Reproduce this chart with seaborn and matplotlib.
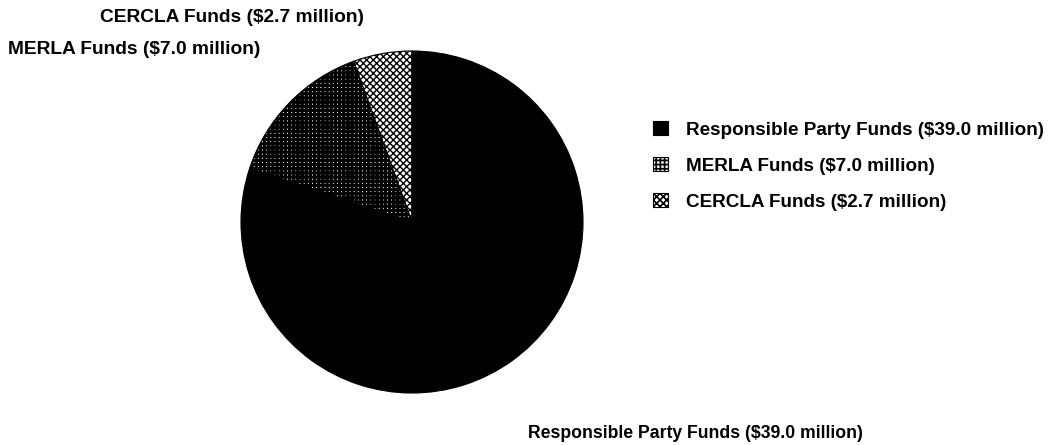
import matplotlib
matplotlib.use('Agg')
import matplotlib.pyplot as plt
import seaborn as sns

# data
labels = ['CERCLA Funds', 'MERLA Funds', 'Responsible Party Funds']
amounts = [2.7, 7.0, 39.0]
hatches = ['xxxxx', '++++', '']
hatch_lw = [1.0, 2.2, 1.0]
faces = ['white', 'white', 'black']

sns.set_theme(style='white')
plt.rcParams['font.family'] = ['Liberation Sans', 'DejaVu Sans']
plt.rcParams['text.color'] = 'black'
plt.rcParams['hatch.linewidth'] = 1.2

W, H = 1058, 445
fig = plt.figure(figsize=(W / 100, H / 100), dpi=100)
cx, cy, r = 412, 222, 171
ax = fig.add_axes([(cx - r) / W, (H - cy - r) / H, 2 * r / W, 2 * r / H])

wedges, _ = ax.pie(amounts, startangle=90, counterclock=True,
                   colors=faces, wedgeprops=dict(edgecolor='black', linewidth=0.8))
for w, h, lw in zip(wedges, hatches, hatch_lw):
    w.set_hatch(h)
    if hasattr(w, 'set_hatch_linewidth'):
        w.set_hatch_linewidth(lw)
ax.set_xlim(-1.0, 1.0)
ax.set_ylim(-1.0, 1.0)
ax.set_aspect('equal')
ax.axis('off')

names = [f'{l} (${a:.1f} million)' for l, a in zip(labels, amounts)]
fs = 13.8
kw = dict(fontweight='semibold', va='center', color='black')
fig.text(100 / W, 1 - 18 / H, names[0], fontsize=fs, **kw)
fig.text(8 / W, 1 - 50 / H, names[1], fontsize=fs, **kw)
fig.text(528 / W, 1 - 434 / H, names[2], fontsize=12.7, **kw)

order = [2, 1, 0]
leg = fig.legend([wedges[i] for i in order], [names[i] for i in order],
                 loc='upper left', bbox_to_anchor=(636 / W, 1 - 104 / H),
                 frameon=False, fontsize=13.6, handlelength=0.8, handleheight=0.75,
                 handletextpad=0.95, labelspacing=0.98)
for t in leg.get_texts():
    t.set_fontweight('semibold')
    t.set_color('black')

fig.savefig('out.png', dpi=100)
